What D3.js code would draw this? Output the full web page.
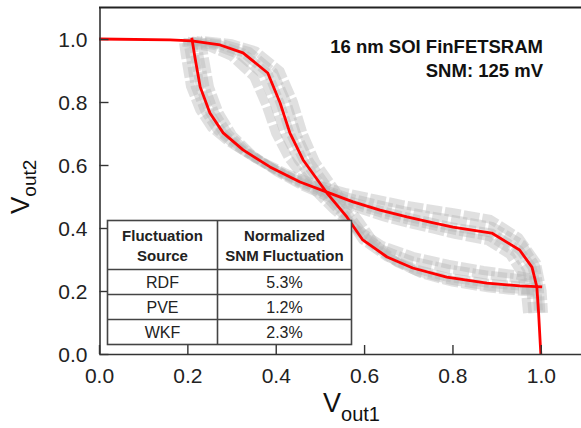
<!DOCTYPE html>
<html>
<head>
<meta charset="utf-8">
<script src="https://cdn.jsdelivr.net/npm/d3@7/dist/d3.min.js"></script>
<style>
  html, body { margin: 0; padding: 0; background: #fff; }
  svg { display: block; }
  text { font-family: "Liberation Sans", Arial, sans-serif; }
</style>
</head>
<body>
<svg id="chart" width="581" height="428"></svg>
<script>
// ---- data ----
const yTicks = [0.0, 0.2, 0.4, 0.6, 0.8, 1.0];
const xTicks = [0.0, 0.2, 0.4, 0.6, 0.8, 1.0];

// nominal butterfly curves (red)
const redCurve1 = [[0,1.0],[0.161,0.997],[0.21,0.994],[0.274,0.981],[0.326,0.956],[0.382,0.892],[0.41,0.797],[0.432,0.702],[0.462,0.616],[0.516,0.511],[0.561,0.435],[0.597,0.362],[0.652,0.308],[0.71,0.273],[0.787,0.244],[0.878,0.225],[0.952,0.216],[1.003,0.213]];
const redCurve2 = [[0.21,1.004],[0.217,0.943],[0.229,0.848],[0.251,0.765],[0.281,0.702],[0.326,0.648],[0.387,0.594],[0.455,0.546],[0.516,0.514],[0.575,0.483],[0.636,0.457],[0.697,0.435],[0.749,0.419],[0.801,0.403],[0.889,0.384],[0.952,0.33],[0.98,0.276],[0.991,0.213],[0.995,0.13],[1.0,0.0]];

// fluctuated curves (gray, dashed)
const grayA1 = [[0.19,0.99],[0.25,0.975],[0.30,0.945],[0.35,0.88],[0.378,0.79],[0.40,0.70],[0.43,0.62],[0.48,0.53],[0.53,0.46],[0.58,0.40],[0.64,0.345],[0.71,0.31],[0.79,0.285],[0.87,0.265],[0.94,0.252],[0.98,0.24]];
const grayA2 = [[0.2,0.993],[0.265,0.978],[0.318,0.95],[0.37,0.888],[0.397,0.795],[0.42,0.70],[0.45,0.617],[0.50,0.52],[0.55,0.445],[0.59,0.385],[0.645,0.33],[0.71,0.295],[0.79,0.27],[0.88,0.25],[0.95,0.24],[0.99,0.232]];
const grayA3 = [[0.22,0.995],[0.285,0.983],[0.34,0.96],[0.395,0.895],[0.425,0.80],[0.447,0.70],[0.476,0.612],[0.53,0.505],[0.575,0.425],[0.612,0.355],[0.665,0.298],[0.72,0.262],[0.795,0.235],[0.88,0.215],[0.955,0.205],[0.995,0.2]];
const grayA4 = [[0.23,0.996],[0.30,0.985],[0.355,0.962],[0.41,0.898],[0.44,0.80],[0.462,0.70],[0.49,0.61],[0.545,0.50],[0.59,0.42],[0.625,0.35],[0.675,0.29],[0.73,0.255],[0.80,0.228],[0.88,0.21],[0.95,0.2],[0.99,0.195]];

const grayB1 = [[0.232,1.0],[0.238,0.943],[0.25,0.848],[0.272,0.765],[0.302,0.695],[0.345,0.635],[0.40,0.58],[0.465,0.53],[0.525,0.495],[0.585,0.463],[0.645,0.435],[0.705,0.413],[0.755,0.397],[0.805,0.38],[0.88,0.36],[0.93,0.315],[0.955,0.26],[0.965,0.2],[0.97,0.13]];
const grayB2 = [[0.22,1.0],[0.227,0.943],[0.24,0.848],[0.262,0.765],[0.292,0.7],[0.336,0.642],[0.395,0.588],[0.46,0.538],[0.52,0.505],[0.58,0.473],[0.64,0.447],[0.70,0.425],[0.752,0.409],[0.803,0.393],[0.885,0.372],[0.942,0.322],[0.968,0.27],[0.978,0.2],[0.982,0.13]];
const grayB3 = [[0.2,1.0],[0.207,0.943],[0.218,0.848],[0.24,0.77],[0.268,0.71],[0.31,0.66],[0.37,0.607],[0.44,0.558],[0.505,0.525],[0.565,0.497],[0.63,0.475],[0.69,0.455],[0.745,0.44],[0.8,0.427],[0.89,0.405],[0.958,0.348],[0.988,0.28],[0.997,0.2],[1.0,0.13]];
const grayB4 = [[0.19,1.0],[0.196,0.943],[0.207,0.85],[0.228,0.775],[0.255,0.718],[0.295,0.672],[0.355,0.62],[0.43,0.57],[0.495,0.537],[0.56,0.512],[0.625,0.492],[0.685,0.475],[0.74,0.462],[0.795,0.45],[0.885,0.428],[0.95,0.37],[0.99,0.29],[1.003,0.2],[1.006,0.13]];

const annotation = ["16 nm SOI FinFETSRAM", "SNM: 125 mV"];
const tableHeader = [["Fluctuation", "Source"], ["Normalized", "SNM Fluctuation"]];
const tableSources = ["RDF", "PVE", "WKF"];
const tableValues = ["5.3%", "1.2%", "2.3%"];

// ---- drawing ----
const svg = d3.select("#chart");
const x = d3.scaleLinear().domain([0, 1.1]).range([99, 585]);
const y = d3.scaleLinear().domain([0, 1.1]).range([354, 7.5]);
const line = d3.line().x(d => x(d[0])).y(d => y(d[1])).curve(d3.curveLinear);

const grayCurves = [grayA1, grayA2, grayA3, grayA4, redCurve1.slice(2, 17),
                    grayB1, grayB2, grayB3, grayB4, redCurve2.slice(0, 19)];
const gGray = svg.append("g");
grayCurves.forEach((c, i) => {
  gGray.append("path").attr("d", line(c))
    .attr("fill", "none").attr("stroke", "#b4b4b4")
    .attr("stroke-width", 9).attr("stroke-opacity", 0.42)
    .attr("stroke-dasharray", "16 3")
    .attr("stroke-dashoffset", (i % 5) * 5);
});

svg.append("path").attr("d", line(redCurve1)).attr("fill", "none")
  .attr("stroke", "#ff0000").attr("stroke-width", 2.8).attr("stroke-linejoin", "round");
svg.append("path").attr("d", line(redCurve2)).attr("fill", "none")
  .attr("stroke", "#ff0000").attr("stroke-width", 2.8).attr("stroke-linejoin", "round");

// axes
const fmt = d3.format(".1f");
const yAxis = d3.axisLeft(y).tickValues(yTicks).tickFormat(fmt).tickSize(-9).tickSizeOuter(0).tickPadding(12);
const xAxis = d3.axisBottom(x).tickValues(xTicks).tickFormat(fmt).tickSize(-9).tickSizeOuter(0).tickPadding(14);

const gy = svg.append("g").attr("transform", "translate(99.5,0)").call(yAxis);
const gx = svg.append("g").attr("transform", "translate(0,354)").call(xAxis);
[gx, gy].forEach(g => {
  g.selectAll("path.domain").attr("stroke", "#333").attr("stroke-width", 1.6);
  g.selectAll(".tick line").attr("stroke", "#333").attr("stroke-width", 1.4);
  g.selectAll(".tick text").attr("font-size", 21).attr("fill", "#222")
    .attr("font-family", "Liberation Sans, Arial, sans-serif");
});
gy.selectAll(".tick text").attr("dy", "0.38em");
svg.append("line").attr("x1", 99).attr("x2", 585).attr("y1", 7.5).attr("y2", 7.5)
  .attr("stroke", "#222").attr("stroke-width", 2);

// axis titles
const xt = svg.append("text").attr("x", 323).attr("y", 412).attr("fill", "#111");
xt.append("tspan").attr("font-size", 27).text("V");
xt.append("tspan").attr("font-size", 20).attr("dy", 9).text("out1");

const yt = svg.append("text").attr("transform", "translate(29,214) rotate(-90)").attr("fill", "#111");
yt.append("tspan").attr("font-size", 26).text("V");
yt.append("tspan").attr("font-size", 19).attr("dy", 7).text("out2");

// annotation
annotation.forEach((t, i) => {
  svg.append("text").attr("x", 543).attr("y", 53 + i * 24)
    .attr("text-anchor", "end").attr("font-weight", "bold")
    .attr("font-size", 18.5).attr("fill", "#111").text(t);
});

// table
const tl = 107.5, tr = 351.5, tc = 217.5, tt = 220.5;
const rowLines = [269.5, 294.5, 319.5, 344.5];
const tg = svg.append("g");
tg.append("rect").attr("x", tl).attr("y", tt).attr("width", tr - tl).attr("height", rowLines[3] - tt)
  .attr("fill", "#fff").attr("stroke", "#444").attr("stroke-width", 1.6);
tg.append("line").attr("x1", tc).attr("x2", tc).attr("y1", tt).attr("y2", rowLines[3])
  .attr("stroke", "#444").attr("stroke-width", 1.6);
rowLines.slice(0, 3).forEach(r => {
  tg.append("line").attr("x1", tl).attr("x2", tr).attr("y1", r).attr("y2", r)
    .attr("stroke", "#444").attr("stroke-width", 1.6);
});
const colCenters = [(tl + tc) / 2, (tc + tr) / 2];
tableHeader.forEach((lines, c) => {
  lines.forEach((t, k) => {
    tg.append("text").attr("x", colCenters[c]).attr("y", 241 + k * 20)
      .attr("text-anchor", "middle").attr("font-weight", "bold")
      .attr("font-size", 15).attr("fill", "#222").text(t);
  });
});
tableSources.forEach((s, i) => {
  const base = (rowLines[i] + rowLines[i + 1]) / 2 + 6;
  tg.append("text").attr("x", colCenters[0]).attr("y", base).attr("text-anchor", "middle")
    .attr("font-size", 16).attr("fill", "#222").text(s);
  tg.append("text").attr("x", colCenters[1]).attr("y", base).attr("text-anchor", "middle")
    .attr("font-size", 16).attr("fill", "#222").text(tableValues[i]);
});
</script>
</body>
</html>
